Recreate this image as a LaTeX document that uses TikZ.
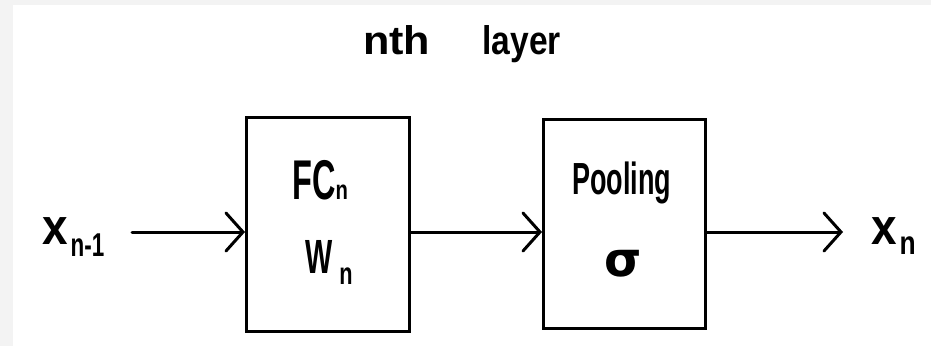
\documentclass[tikz,border=0pt]{standalone}
\usepackage{fontspec}
\setmainfont{Liberation Sans}
\newfontfamily\symfont{DejaVu Sans}
\usetikzlibrary{arrows.meta}
\definecolor{bgedge}{HTML}{F3F3F3}
\newcommand{\fs}[1]{\fontsize{#1}{#1}\selectfont}
\begin{document}
\begin{tikzpicture}[x=1pt,y=-1pt,
  blockbox/.style={draw=black,line width=3pt,minimum width=163pt,minimum height=214pt,inner sep=0pt},
  arr/.style={line width=3pt,line cap=round,line join=round,-{Straight Barb[length=17pt,width=38pt,line cap=round]}},
  txt/.style={inner sep=0pt,anchor=base west,font=\bfseries}]
\useasboundingbox (0,0) rectangle (931,346);
\fill[bgedge] (0,0) rectangle (931,346);
\fill[white] (13,5) rectangle (931,346);
% title
\node[txt] (title) at (363,54) {\fs{40}\scalebox{1.08}[1]{nth}\hspace{52pt}\scalebox{0.84}[1]{layer}};
% boxes
\node[blockbox] (b1) at (328,224.5) {};
\node[blockbox,minimum width=162pt,minimum height=209pt] (b2) at (624.5,224) {};
% box texts
\node[txt] (fc) at (292,199) {\scalebox{0.58}[1]{\fs{56}FC}\scalebox{0.75}[1]{\fs{27}n}};
\node[txt] (wn) at (305,273) {\scalebox{0.6}[1]{\fs{48}W}\hspace{7pt}\raisebox{-11pt}{\scalebox{0.7}[1]{\fs{31}n}}};
\node[txt] (pool) at (572,194) {\scalebox{0.6}[1]{\fs{45}Pooling}};
\node[txt] (sig) at (604,276) {\symfont\bfseries\fs{48}σ};
% inputs / outputs
\node[txt] (xin) at (42,244) {\scalebox{0.9}[1]{\fs{51}x}\hspace{3pt}\raisebox{-12pt}{\scalebox{0.68}[1]{\fs{33}n-1}}};
\node[txt] (xout) at (871,244) {\scalebox{0.9}[1]{\fs{51}x}\hspace{3pt}\raisebox{-10pt}{\scalebox{0.8}[1]{\fs{33}n}}};
% connectors
\coordinate (src) at (132,232);
\coordinate (dst) at (843,232);
\draw[arr] (src) -- (src -| b1.west);
\draw[arr] (b1.east |- src) -- (b2.west |- src);
\draw[arr] (b2.east |- src) -- (dst);
\end{tikzpicture}
\end{document}
